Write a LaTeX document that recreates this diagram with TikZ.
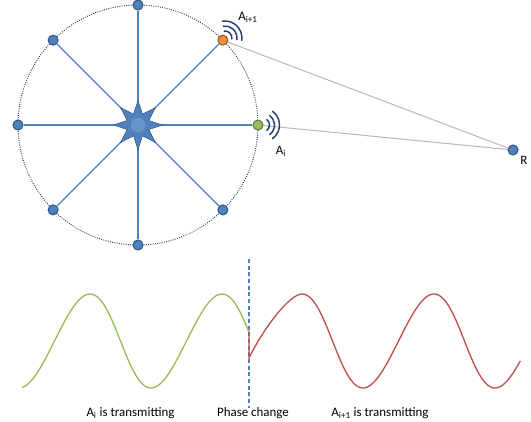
\documentclass[tikz,border=0pt]{standalone}
\usepackage{fontspec}
\setmainfont{Carlito}
\usepackage{tikz}
\usetikzlibrary{calc, positioning, shapes.geometric}

\definecolor{nodeblue}{RGB}{79,129,189}
\definecolor{edgeblue}{RGB}{52,88,135}
\definecolor{darkblue}{RGB}{37,64,110}
\definecolor{txorange}{RGB}{240,140,60}
\definecolor{txgreen}{RGB}{155,187,89}
\definecolor{wavered}{RGB}{192,80,77}

\begin{document}
\begin{tikzpicture}[x=7.5pt, y=7.5pt, font=\fontsize{9.7}{11}\selectfont,
  vtx/.style={draw=edgeblue, fill=nodeblue, circle, line width=0.8pt, inner sep=0pt, minimum size=7.5pt},
  spoke/.style={nodeblue, line width=1pt},
  link/.style={black!28, line width=0.75pt},
  signal/.style={darkblue, line width=1.1pt},
  wave/.style={line width=1pt},
  lbl/.style={inner sep=0pt, anchor=base}]
\useasboundingbox (-13.8,-29.6) rectangle (39.3,12.5);
\coordinate (O) at (0,0);
\draw[darkblue, densely dotted, line width=0.7pt] (O) circle (12);
% nodes on the ring
\foreach \a in {90,135,180,225,270,315}
  \node[vtx] (v\a) at (\a:12) {};
\node[vtx, fill=txorange, draw=txorange!65!black] (ai1) at (45:12) {};
\node[vtx, fill=txgreen, draw=txgreen!65!black] (ai) at (0:12) {};
\node[vtx] (R) at (37.5,-2.5) {};
\foreach \v in {v90,v135,v180,v225,v270,v315,ai1,ai}
  \draw[spoke] (O) -- (\v);
\node[star, star points=8, star point ratio=2.1, minimum size=37pt, inner sep=0pt, draw=edgeblue, fill=nodeblue] (hub) at (O) {};
\node[circle, fill=nodeblue!85!white, minimum size=11pt, inner sep=0pt] (hubc) at (O) {};
\draw[link] (ai1) -- (R);
\draw[link] (ai) -- (R);
\foreach \r in {0.7,1.2,1.7}{
  \draw[signal] ($(ai1.center)+(45:0.3)+(-10:\r)$) arc[start angle=-10, end angle=100, radius=\r];
  \draw[signal] ($(ai.center)+(0:0.45)+(-55:\r)$) arc[start angle=-55, end angle=55, radius=\r];
}
\node[lbl] (lai1) at (11.0,10.4) {A\textsubscript{i+1}};
\node[lbl] (lai) at (14.3,-2.9) {A\textsubscript{i}};
\node[lbl] (lR) at (38.6,-3.9) {R};
% phase change
\coordinate (dtop) at (11.1,-13.4);
\coordinate (dbot) at (11.1,-28.3);
\draw[nodeblue, line width=1pt, dash pattern=on 3pt off 2pt] (dtop) -- (dbot);
\draw[wave, txgreen, domain=-82:529, samples=150, smooth, variable=\t]
  plot ({-8.35+0.036667*\t+0.25*sin(\t)}, {-21.6+4.7*sin(\t)});
\draw[wave, wavered] (11.1,-20.7) -- (11.1,-23.3) .. controls (12.4,-20.6) and (15.1,-16.9) .. (16.4,-16.9)
  -- plot[domain=90:695, samples=150, smooth, variable=\t] ({12.85+0.036667*\t+0.25*sin(\t)}, {-21.6+4.7*sin(\t)});
\node[lbl] (txi) at (-0.75,-29.1) {A\textsubscript{i} is transmitting};
\node[lbl] (phase) at (11.5,-29.1) {Phase change};
\node[lbl] (txi1) at (24.2,-29.1) {A\textsubscript{i+1} is transmitting};
\end{tikzpicture}
\end{document}
